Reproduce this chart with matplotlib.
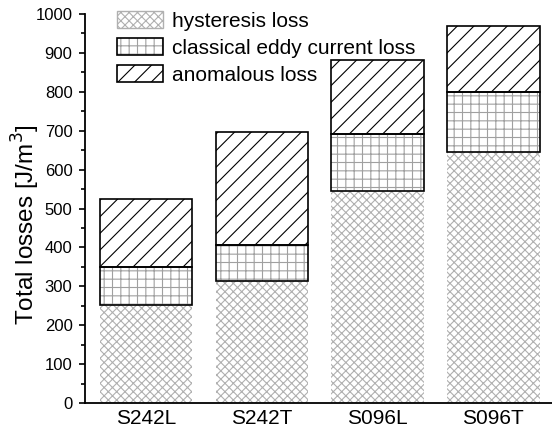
import numpy as np
import matplotlib.pyplot as plt
from matplotlib.patches import Patch
from matplotlib.legend_handler import HandlerTuple

plt.rcParams['font.family'] = ['Liberation Sans', 'DejaVu Sans']
plt.rcParams['hatch.linewidth'] = 0.8

samples = ['S242L', 'S242T', 'S096L', 'S096T']
hysteresis = np.array([252, 314, 545, 645])
classical = np.array([98, 92, 147, 155])
anomalous = np.array([174, 291, 190, 169])

fig = plt.figure(figsize=(5.52, 4.28), dpi=100)
ax = fig.add_axes([0.154, 0.0584, 0.846, 0.9088])

x = np.arange(len(samples))
w = 0.8
grey = '#b0b0b0'
mid = '#a0a0a0'

# hatched fills (hatch takes edge colour), then black outlines on top
ax.bar(x, hysteresis, w, color='white', edgecolor=grey, hatch='xxxx', linewidth=0)
ax.bar(x, classical, w, bottom=hysteresis, color='white', edgecolor=mid, hatch='++', linewidth=0)
ax.bar(x, anomalous, w, bottom=hysteresis + classical, color='white', edgecolor='black', hatch='//', linewidth=0)
ax.bar(x, classical, w, bottom=hysteresis, fill=False, edgecolor='black', linewidth=1.2)
ax.bar(x, anomalous, w, bottom=hysteresis + classical, fill=False, edgecolor='black', linewidth=1.2)

ax.set_xlim(-0.527, 3.506)
ax.set_ylim(0, 1000)
ax.set_yticks(np.arange(0, 1001, 100))
ax.set_yticks(np.arange(50, 1000, 100), minor=True)
ax.set_xticks(x)
ax.set_xticklabels(samples, fontsize=15)
ax.tick_params(axis='x', length=0, pad=4)
ax.tick_params(axis='y', which='major', length=4, width=1.2, labelsize=12, pad=5)
ax.tick_params(axis='y', which='minor', length=3, width=1.2)
ax.spines['top'].set_visible(False)
ax.spines['right'].set_visible(False)
ax.spines['left'].set_linewidth(1.3)
ax.spines['bottom'].set_linewidth(1.3)
ax.set_ylabel('Total losses [J/m$^3$]', fontsize=17.5)
ax.yaxis.set_label_coords(-0.092, 0.459)

h1 = (Patch(facecolor='white', edgecolor=grey, hatch='xxxx', linewidth=0),
      Patch(fill=False, edgecolor=grey, linewidth=1.0))
h2 = (Patch(facecolor='white', edgecolor=mid, hatch='++', linewidth=0),
      Patch(fill=False, edgecolor='black', linewidth=1.2))
h3 = (Patch(facecolor='white', edgecolor='black', hatch='//', linewidth=0),
      Patch(fill=False, edgecolor='black', linewidth=1.2))
fig.legend([h1, h2, h3], ['hysteresis loss', 'classical eddy current loss', 'anomalous loss'],
           handler_map={tuple: HandlerTuple(ndivide=1)}, loc='upper left',
           bbox_to_anchor=(117 / 552, 1 - 11 / 428), frameon=False, fontsize=15,
           borderpad=0, borderaxespad=0,
           handlelength=2.2, handleheight=0.85, handletextpad=0.45, labelspacing=0.36)

fig.savefig('out.png', dpi=100)
